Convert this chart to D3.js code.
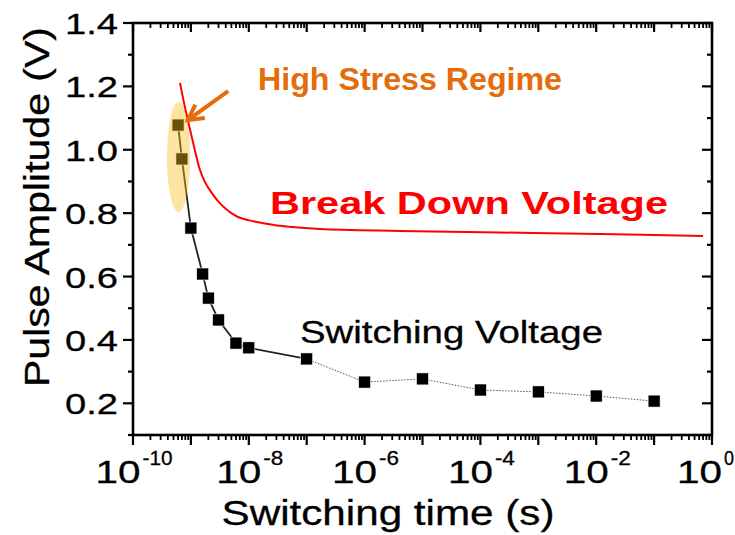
<!DOCTYPE html>
<html><head><meta charset="utf-8">
<script src="https://cdn.jsdelivr.net/npm/d3@7"></script>
<style>body{margin:0;background:#fff}svg{display:block}text{font-family:"Liberation Sans",Arial,sans-serif}</style>
</head><body><svg id="c" width="735" height="535"></svg>
<script>
// ---- data ----
const switchTimes = [6e-10, 7e-10, 1e-9, 1.6e-9, 2e-9, 3e-9, 6e-9, 1e-8, 1e-7, 1e-6, 1e-5, 1e-4, 1e-3, 1e-2, 1e-1];
const switchVolts = [1.078, 0.971, 0.753, 0.608, 0.532, 0.463, 0.39, 0.375, 0.34, 0.267, 0.277, 0.242, 0.236, 0.223, 0.207];
const solidCount = 9; // first 9 points joined by solid line, rest dotted
const breakTimes = [6.48e-10, 7.6e-10, 8.91e-10, 1.045e-9, 1.224e-9, 1.436e-9, 1.751e-9, 2.224e-9, 2.938e-9, 4.037e-9, 6.01e-9, 9.69e-9, 1.69e-8, 3.458e-8, 1.697e-7, 4.09e-6, 2.18e-4, 1.163e-2, 0.699];
const breakVolts = [1.211, 1.148, 1.091, 1.037, 0.984, 0.936, 0.898, 0.867, 0.838, 0.813, 0.791, 0.778, 0.769, 0.760, 0.750, 0.744, 0.739, 0.734, 0.728];
const yTickValues = [0.2, 0.4, 0.6, 0.8, 1.0, 1.2, 1.4];
const yTickLabels = ["0.2", "0.4", "0.6", "0.8", "1.0", "1.2", "1.4"];
const xTickExponents = [-10, -8, -6, -4, -2, 0];
const xDomain = [1e-10, 1];
const yDomain = [0.1, 1.4];

const svg = d3.select("#c");
const W = 735, L = 133, R = 712, T = 23, B = 435;
const x = d3.scaleLog().domain(xDomain).range([L, R]);
const y = d3.scaleLinear().domain(yDomain).range([B, T]);

function fit(sel, len) { return sel.attr("textLength", len).attr("lengthAdjust", "spacingAndGlyphs"); }

// minor/major ticks
const xMajors = d3.range(-10, 1).map(e => Math.pow(10, e));
const xMinors = [];
for (let e = -10; e < 0; e++) for (let m = 2; m <= 9; m++) xMinors.push(m * Math.pow(10, e));
const yMajors = yTickValues;
const yMinors = [0.1, 0.3, 0.5, 0.7, 0.9, 1.1, 1.3];

const ax = svg.append("g").attr("stroke", "#000").attr("stroke-width", 2.2);
xMajors.forEach(v => {
  ax.append("line").attr("x1", x(v)).attr("x2", x(v)).attr("y1", B).attr("y2", B + 10);
  ax.append("line").attr("x1", x(v)).attr("x2", x(v)).attr("y1", T).attr("y2", T + 9);
});
xMinors.forEach(v => {
  ax.append("line").attr("x1", x(v)).attr("x2", x(v)).attr("y1", B).attr("y2", B + 5).attr("stroke-width", 1.8);
  ax.append("line").attr("x1", x(v)).attr("x2", x(v)).attr("y1", T).attr("y2", T + 5).attr("stroke-width", 1.8);
});
yMajors.forEach(v => {
  ax.append("line").attr("x1", L - 10).attr("x2", L).attr("y1", y(v)).attr("y2", y(v));
  ax.append("line").attr("x1", R - 10).attr("x2", R).attr("y1", y(v)).attr("y2", y(v));
});
yMinors.forEach(v => {
  ax.append("line").attr("x1", L - 5).attr("x2", L).attr("y1", y(v)).attr("y2", y(v));
  ax.append("line").attr("x1", R - 5).attr("x2", R).attr("y1", y(v)).attr("y2", y(v));
});
ax.append("rect").attr("x", L).attr("y", T).attr("width", R - L).attr("height", B - T).attr("fill", "none").attr("stroke-width", 2.6);

// y tick labels
yTickValues.forEach((v, i) => {
  fit(svg.append("text").attr("x", 118).attr("y", y(v) + 11).attr("text-anchor", "end")
    .attr("font-size", 30).attr("fill", "#000").attr("stroke", "#000").attr("stroke-width", 0.3).text(yTickLabels[i]), 53);
});
// x tick labels
xTickExponents.forEach(e => {
  const cx = x(Math.pow(10, e));
  const sup = String(e);
  const t = svg.append("text").attr("y", 483).attr("font-size", 31).attr("fill", "#000").attr("stroke", "#000").attr("stroke-width", 0.3);
  const supW = sup.length * 10;
  const baseW = 45;
  const total = baseW + 2 + supW;
  let sx = cx - total / 2 + 1;
  if (sx + total > W - 1) sx = W - 1 - total;
  t.attr("x", sx);
  fit(t.append("tspan").text("10"), baseW);
  const ts = t.append("tspan").attr("dx", 2).attr("dy", -18).attr("font-size", 20).text(sup);
  fit(ts, supW);
});
// axis titles
fit(svg.append("text").attr("x", 388).attr("y", 525).attr("text-anchor", "middle").attr("font-size", 35)
  .attr("fill", "#000").attr("stroke", "#000").attr("stroke-width", 0.3).text("Switching time (s)"), 333);
fit(svg.append("text").attr("transform", "translate(49,207) rotate(-90)").attr("text-anchor", "middle")
  .attr("font-size", 35).attr("fill", "#000").attr("stroke", "#000").attr("stroke-width", 0.3).text("Pulse Amplitude (V)"), 360);

// break down voltage curve
const bd = breakTimes.map((t, i) => [t, breakVolts[i]]);
svg.append("path").datum(bd).attr("fill", "none").attr("stroke", "#ff0000").attr("stroke-width", 2)
  .attr("d", d3.line().x(d => x(d[0])).y(d => y(d[1])).curve(d3.curveCatmullRom.alpha(0.5)));

// switching voltage
const sw = switchTimes.map((t, i) => [t, switchVolts[i]]);
const lineGen = d3.line().x(d => x(d[0])).y(d => y(d[1]));
svg.append("path").datum(sw.slice(0, solidCount)).attr("fill", "none").attr("stroke", "#222").attr("stroke-width", 1.8).attr("d", lineGen);
svg.append("path").datum(sw.slice(solidCount - 1)).attr("fill", "none").attr("stroke", "#555").attr("stroke-width", 1).attr("stroke-dasharray", "1.5,1.5").attr("d", lineGen);
const sq = 12;
svg.selectAll("rect.pt").data(sw).enter().append("rect").attr("class", "pt")
  .attr("x", d => x(d[0]) - sq / 2).attr("y", d => y(d[1]) - sq / 2).attr("width", sq).attr("height", sq)
  .attr("fill", "#000").attr("stroke", "#fff").attr("stroke-width", 0.6);

// high stress ellipse
const ellipseCenter = [6.1e-10, 0.977];
const ellipseRy = 0.174;
svg.append("ellipse").attr("cx", x(ellipseCenter[0])).attr("cy", y(ellipseCenter[1]))
  .attr("rx", 11.5).attr("ry", y(0) - y(ellipseRy))
  .attr("fill", "rgb(250,190,30)").attr("fill-opacity", 0.42);

// arrow
const arrowFrom = [4.4e-9, 1.185], arrowTo = [8.9e-10, 1.094];
const ax1 = x(arrowFrom[0]), ay1 = y(arrowFrom[1]), ax2 = x(arrowTo[0]), ay2 = y(arrowTo[1]);
const ang = Math.atan2(ay2 - ay1, ax2 - ax1);
const oc = "#e46c0a";
svg.append("line").attr("x1", ax1).attr("y1", ay1).attr("x2", ax2 + 2 * Math.cos(ang)).attr("y2", ay2 + 2 * Math.sin(ang))
  .attr("stroke", oc).attr("stroke-width", 4);
const hl = 17, ha = 0.5;
svg.append("path").attr("fill", "none").attr("stroke", oc).attr("stroke-width", 4).attr("stroke-linejoin", "miter")
  .attr("d", `M${ax2 - hl * Math.cos(ang - ha)},${ay2 - hl * Math.sin(ang - ha)} L${ax2},${ay2} L${ax2 - hl * Math.cos(ang + ha)},${ay2 - hl * Math.sin(ang + ha)}`);

// annotations
fit(svg.append("text").attr("x", 258).attr("y", 90).attr("font-size", 32).attr("font-weight", "bold")
  .attr("fill", oc).text("High Stress Regime"), 304);
fit(svg.append("text").attr("x", 270).attr("y", 214).attr("font-size", 32).attr("font-weight", "bold")
  .attr("fill", "#ff0000").text("Break Down Voltage"), 398);
fit(svg.append("text").attr("x", 300).attr("y", 343).attr("font-size", 32)
  .attr("fill", "#000").attr("stroke", "#000").attr("stroke-width", 0.3).text("Switching Voltage"), 303);
</script></body></html>
